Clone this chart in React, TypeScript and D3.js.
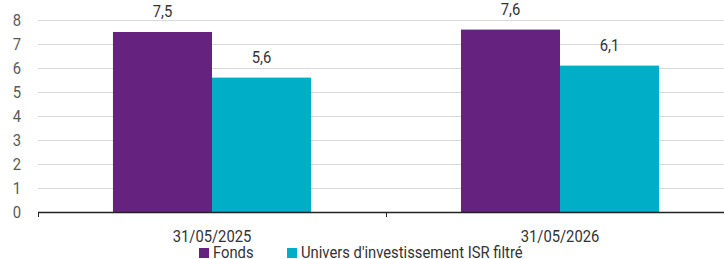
import * as d3 from 'd3';
import React, { ReactElement, useEffect, useRef } from 'react';

const categories = ['31/05/2025', '31/05/2026'];
const seriesNames = ['Fonds', "Univers d'investissement ISR filtré"];
const fonds = [7.5, 7.6];
const univers = [5.6, 6.1];
const yTicks = [0, 1, 2, 3, 4, 5, 6, 7, 8];

const COLORS = ['#65237f', '#00afc7'];
const WIDTH = 724;
const HEIGHT = 259;
const FONT = "'Roboto', sans-serif";
const SX = 0.87;

const fmt = (v: number) => v.toFixed(1).replace('.', ',');

const Chart = (): ReactElement => {
  const ref = useRef<SVGSVGElement>(null);

  useEffect(() => {
    const svg = d3.select(ref.current);
    svg.selectAll('*').remove();

    // plot area runs a little past the right edge of the picture (cropped chart)
    const left = 38;
    const right = 734;
    const top = 20;
    const bottom = 212;

    const x = d3.scaleBand().domain(categories).range([left, right]);
    const xs = d3
      .scaleBand()
      .domain(seriesNames)
      .range([0, x.bandwidth()])
      .paddingInner(0)
      .paddingOuter(0.757);
    const y = d3.scaleLinear().domain([0, 8]).range([bottom, top]);

    // gridlines
    svg
      .append('g')
      .selectAll('line')
      .data(yTicks.filter((t) => t > 0))
      .enter()
      .append('line')
      .attr('x1', left)
      .attr('x2', right)
      .attr('y1', (d) => y(d) + 0.5)
      .attr('y2', (d) => y(d) + 0.5)
      .attr('stroke', '#d9d9d9')
      .attr('stroke-width', 1);

    // y labels
    svg
      .append('g')
      .selectAll('text')
      .data(yTicks)
      .enter()
      .append('text')
      .attr('dy', '0.35em')
      .attr('text-anchor', 'end')
      .attr('font-family', FONT)
      .attr('font-size', 17)
      .attr('fill', '#595959')
      .attr('transform', (d) => `translate(21,${y(d)}) scale(${SX},1)`)
      .text((d) => d);

    const series = [fonds, univers];
    const bars = svg.append('g');
    series.forEach((vals, si) => {
      bars
        .selectAll(`.s${si}`)
        .data(vals)
        .enter()
        .append('rect')
        .attr('class', `s${si}`)
        .attr('x', (_, i) => (x(categories[i]) ?? 0) + (xs(seriesNames[si]) ?? 0))
        .attr('y', (d) => y(d))
        .attr('width', xs.bandwidth())
        .attr('height', (d) => bottom - y(d))
        .attr('fill', COLORS[si]);

      bars
        .selectAll(`.l${si}`)
        .data(vals)
        .enter()
        .append('text')
        .attr('class', `l${si}`)
        .attr('text-anchor', 'middle')
        .attr('font-family', FONT)
        .attr('font-size', 17)
        .attr('fill', '#333333')
        .attr('transform', (d, i) => {
          const cx = (x(categories[i]) ?? 0) + (xs(seriesNames[si]) ?? 0) + xs.bandwidth() / 2;
          return `translate(${cx},${y(d) - 15}) scale(${SX},1)`;
        })
        .text((d) => fmt(d));
    });

    // x axis
    svg
      .append('line')
      .attr('x1', left)
      .attr('x2', right)
      .attr('y1', bottom + 0.5)
      .attr('y2', bottom + 0.5)
      .attr('stroke', '#222')
      .attr('stroke-width', 1.5);

    const tickXs = [left, ...categories.map((c) => (x(c) ?? 0) + x.bandwidth())];
    svg
      .append('g')
      .selectAll('line')
      .data(tickXs)
      .enter()
      .append('line')
      .attr('x1', (d) => d + 0.5)
      .attr('x2', (d) => d + 0.5)
      .attr('y1', bottom)
      .attr('y2', bottom + 5)
      .attr('stroke', '#222')
      .attr('stroke-width', 1);

    svg
      .append('g')
      .selectAll('text')
      .data(categories)
      .enter()
      .append('text')
      .attr('text-anchor', 'middle')
      .attr('font-family', FONT)
      .attr('font-size', 17)
      .attr('fill', '#333333')
      .attr('transform', (d) => `translate(${(x(d) ?? 0) + x.bandwidth() / 2},242) scale(${SX},1)`)
      .text((d) => d);

    // legend
    const legendX = [199, 287];
    const legend = svg.append('g');
    seriesNames.forEach((name, i) => {
      legend
        .append('rect')
        .attr('x', legendX[i])
        .attr('y', 248)
        .attr('width', 10)
        .attr('height', 10)
        .attr('fill', COLORS[i]);
      legend
        .append('text')
        .attr('font-family', FONT)
        .attr('font-size', 17)
        .attr('fill', '#333333')
        .attr('transform', `translate(${legendX[i] + 14},258) scale(${SX},1)`)
        .text(name);
    });
  }, []);

  return <svg ref={ref} width={WIDTH} height={HEIGHT} style={{ display: 'block' }} />;
};

export default function App(): ReactElement {
  return (
    <div style={{ position: 'absolute', left: 0, top: 0 }}>
      <Chart />
    </div>
  );
}
